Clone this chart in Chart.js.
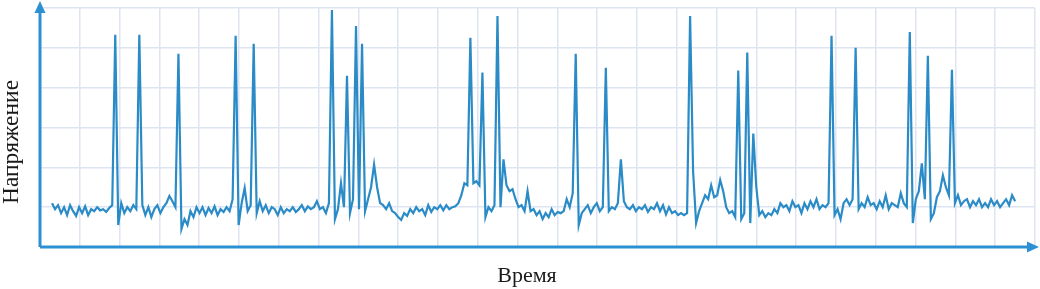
<!DOCTYPE html>
<html>
<head>
<meta charset="utf-8">
<script src="https://cdn.jsdelivr.net/npm/chart.js@4.4.1/dist/chart.umd.min.js"></script>
<style>
  html, body { margin: 0; padding: 0; background: #fff; }
  #wrap { width: 1040px; height: 289px; }
</style>
</head>
<body>
<div id="wrap"><canvas id="signalChart"></canvas></div>
<script>
// axis titles
const xTitle = 'Время';
const yTitle = 'Напряжение';

// sample readings of the signal
const voltage = [
  1.1, 0.95, 1.05, 0.85, 1.0, 0.8, 1.05, 0.9, 0.78, 1.0,
  0.85, 1.02, 0.8, 0.95, 0.9, 1.0, 0.92, 0.95, 0.88, 0.98,
  1.05, 5.33, 0.55, 1.1, 0.85, 1.0, 0.9, 1.05, 0.95, 5.33,
  1.05, 0.8, 1.0, 0.75, 0.95, 1.05, 0.85, 1.0, 1.1, 1.28,
  1.15, 1.0, 4.85, 0.45, 0.7, 0.55, 0.9, 0.75, 1.0, 0.85,
  1.0, 0.8, 0.98, 0.85, 1.02, 0.8, 0.95, 0.88, 1.0, 0.9,
  1.2, 5.3, 0.55, 1.1, 1.48, 0.9, 1.05, 5.1, 0.85, 1.15,
  0.9, 1.05, 0.85, 1.0, 0.95, 0.8, 1.0, 0.85, 0.95, 0.9,
  1.0, 0.88, 0.95, 1.05, 0.9, 1.02, 0.95, 1.0, 1.15, 0.95,
  1.0, 0.85, 1.1, 5.95, 0.7, 0.95, 1.6, 1.0, 4.3, 0.85,
  1.2, 5.55, 0.95, 5.1, 0.9, 1.2, 1.5, 2.07, 1.5, 1.1,
  1.05, 0.95, 1.1, 0.9, 0.85, 0.75, 0.68, 0.85, 0.78, 0.95,
  0.85, 1.0, 0.9, 0.95, 0.8, 1.05, 0.88, 1.0, 0.95, 1.05,
  0.92, 1.05, 0.95, 1.0, 1.02, 1.1, 1.3, 1.6, 1.55, 5.25,
  1.6, 1.65, 1.55, 4.38, 0.75, 1.0, 0.9, 1.05, 5.8, 1.0,
  2.2, 1.55, 1.4, 1.45, 1.2, 1.0, 1.05, 0.9, 1.4, 0.9,
  0.95, 0.8, 0.9, 0.7, 0.85, 0.75, 0.95, 0.8, 0.88, 0.85,
  0.9, 1.2, 1.0, 1.35, 4.85, 0.55, 0.85, 0.95, 1.05, 0.85,
  1.0, 1.1, 0.9, 1.0, 4.5, 0.9, 1.0, 0.95, 1.1, 2.2,
  1.15, 1.0, 0.95, 1.05, 0.9, 1.0, 0.95, 1.05, 0.88, 1.0,
  0.95, 1.1, 0.9, 1.05, 0.82, 1.0, 0.85, 0.9, 0.8, 0.85,
  0.8, 0.85, 5.8, 1.9, 0.6, 0.9, 1.1, 1.3, 1.2, 1.55,
  1.25, 1.3, 1.68, 1.4, 1.0, 0.85, 0.9, 0.75, 4.43, 0.7,
  0.85, 4.88, 0.6, 2.85, 1.5, 0.8, 0.9, 0.75, 0.85, 0.8,
  0.95, 0.85, 1.1, 1.0, 1.05, 0.9, 1.15, 1.0, 1.05, 0.85,
  1.1, 0.95, 1.15, 1.0, 1.2, 0.95, 1.05, 1.0, 1.1, 5.3,
  0.8, 0.95, 0.7, 1.1, 1.2, 1.05, 1.2, 5.0, 0.95, 1.1,
  1.0, 1.25, 1.05, 1.1, 0.95, 1.15, 1.0, 1.3, 0.95, 1.1,
  1.05, 1.0, 1.35, 1.1, 1.0, 5.4, 0.6, 1.2, 1.4, 2.1,
  1.2, 4.8, 0.7, 0.85, 1.25, 1.4, 1.8, 1.5, 1.3, 4.45,
  1.1, 1.3, 1.05, 1.15, 1.2, 1.0, 1.15, 1.05, 1.2, 1.0,
  1.1, 1.0, 1.2, 1.05, 1.15, 1.0, 1.1, 1.2, 1.05, 1.3, 1.15
];
const sampleIndex = voltage.map((v, i) => i);

const lineBlue = '#2a8bc6';
const axisBlue = '#2d90d2';
const gridColor = '#dde5f2';

// x range chosen so the trace sits inside the axes like the original
const xMin = -4;
const xMax = 326.6;
const xCells = 25;

// axes with arrows + the titles
const axesPlugin = {
  id: 'axesPlugin',
  afterDraw(chart) {
    const { ctx, chartArea: a } = chart;
    ctx.save();
    ctx.strokeStyle = axisBlue;
    ctx.fillStyle = axisBlue;
    ctx.lineWidth = 3;
    ctx.beginPath();
    ctx.moveTo(a.left, a.bottom);
    ctx.lineTo(a.left, 10);
    ctx.moveTo(a.left, a.bottom);
    ctx.lineTo(1030, a.bottom);
    ctx.stroke();
    // arrow heads
    ctx.beginPath();
    ctx.moveTo(a.left, 1);
    ctx.lineTo(a.left - 5.5, 13);
    ctx.lineTo(a.left + 5.5, 13);
    ctx.closePath();
    ctx.fill();
    ctx.beginPath();
    ctx.moveTo(1039, a.bottom);
    ctx.lineTo(1027, a.bottom - 5.5);
    ctx.lineTo(1027, a.bottom + 5.5);
    ctx.closePath();
    ctx.fill();

    ctx.fillStyle = '#1a1a1a';
    ctx.textAlign = 'center';
    ctx.textBaseline = 'alphabetic';
    ctx.font = '22px "Liberation Serif", "DejaVu Serif", serif';
    ctx.fillText(xTitle, 527, 282);
    ctx.font = '23.5px "Liberation Serif", "DejaVu Serif", serif';
    ctx.translate(18, 142);
    ctx.rotate(-Math.PI / 2);
    ctx.fillText(yTitle, 0, 0);
    ctx.restore();
  }
};

new Chart(document.getElementById('signalChart'), {
  type: 'line',
  data: {
    labels: sampleIndex,
    datasets: [{
      data: voltage.map((v, i) => ({ x: sampleIndex[i], y: v })),
      borderColor: lineBlue,
      borderWidth: 2.2,
      pointRadius: 0,
      tension: 0,
      fill: false
    }]
  },
  options: {
    responsive: true,
    maintainAspectRatio: false,
    animation: false,
    layout: { padding: { left: 40, right: 5, top: 8, bottom: 42 } },
    plugins: { legend: { display: false }, tooltip: { enabled: false } },
    scales: {
      x: {
        type: 'linear',
        min: xMin,
        max: xMax,
        afterBuildTicks: s => {
          const step = (xMax - xMin) / xCells;
          s.ticks = Array.from({ length: xCells + 1 }, (_, k) => ({ value: xMin + k * step }));
        },
        afterFit: s => { s.height = 0; },
        ticks: { display: false },
        grid: { color: gridColor, lineWidth: 1.5, drawTicks: false },
        border: { display: false }
      },
      y: {
        min: 0,
        max: 6,
        afterFit: s => { s.width = 0; },
        ticks: { display: false, stepSize: 1 },
        grid: { color: gridColor, lineWidth: 1.5, drawTicks: false },
        border: { display: false }
      }
    }
  },
  plugins: [axesPlugin]
});
</script>
</body>
</html>
